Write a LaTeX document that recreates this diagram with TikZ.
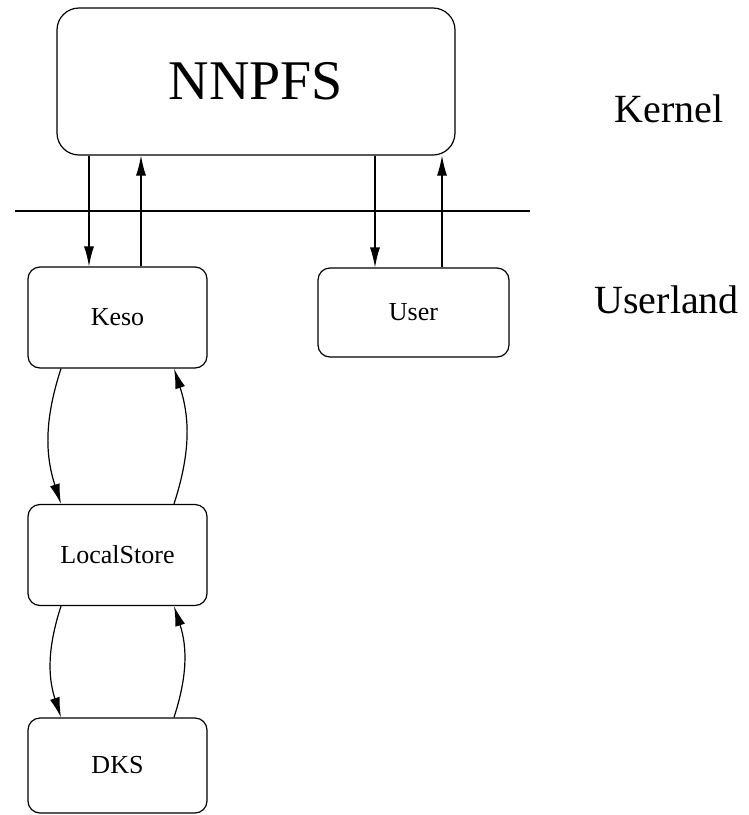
\documentclass[tikz,border=0pt]{standalone}
\usepackage{fontspec}
\setmainfont{Liberation Serif}
\usetikzlibrary{arrows.meta}

\tikzset{
	box/.style = {draw, rounded corners = 12pt, line width = 1.2pt, minimum width = 179pt, minimum height = 101pt, inner sep = 0pt, font = \fontsize{26}{30}\selectfont},
	arr/.style = {line width = 1.2pt, -{Latex[length = 20pt, width = 10pt]}},
	side/.style = {anchor = base west, font = \fontsize{40}{46}\selectfont}
}

\begin{document}
\begin{tikzpicture}[x = 1pt, y = -1pt]
		\useasboundingbox (0,0) rectangle (749,815);
		\node[box, rounded corners = 22pt, minimum width = 398pt, minimum height = 147pt, font = \fontsize{56}{60}\selectfont] (nnpfs) at (256, 81.5) {NNPFS};
		\node[box] (keso) at (117.5, 317.5) {Keso};
		\node[box, minimum width = 191pt, minimum height = 89pt] (user) at (413.5, 312.5) {User};
		\node[box] (store) at (117.5, 555) {LocalStore};
		\node[box, minimum height = 95pt] (dks) at (117.5, 765.5) {DKS};
		\node[side] (kernel) at (611, 122) {Kernel};
		\node[side] (userland) at (591, 313) {Userland};
		\coordinate (sepl) at (15, 211);
		\coordinate (sepr) at (530, 211);
		\draw[line width = 1.2pt] (sepl) -- (sepr);
		% kernel <-> userland
		\draw[arr] (nnpfs.south -| 89,0) -- (keso.north -| 89,0);
		\draw[arr] (keso.north -| 141,0) -- (nnpfs.south -| 141,0);
		\draw[arr] (nnpfs.south -| 375,0) -- (user.north -| 375,0);
		\draw[arr] (user.north -| 442,0) -- (nnpfs.south -| 442,0);
		% userland chain
		\draw[arr] (keso.south -| 61,0) to[bend right = 18] (store.north -| 61,0);
		\draw[arr] (store.north -| 174,0) to[bend right = 18] (keso.south -| 174,0);
		\draw[arr] (store.south -| 61,0) to[bend right = 18] (dks.north -| 61,0);
		\draw[arr] (dks.north -| 174,0) to[bend right = 18] (store.south -| 174,0);
	\end{tikzpicture}
\end{document}
